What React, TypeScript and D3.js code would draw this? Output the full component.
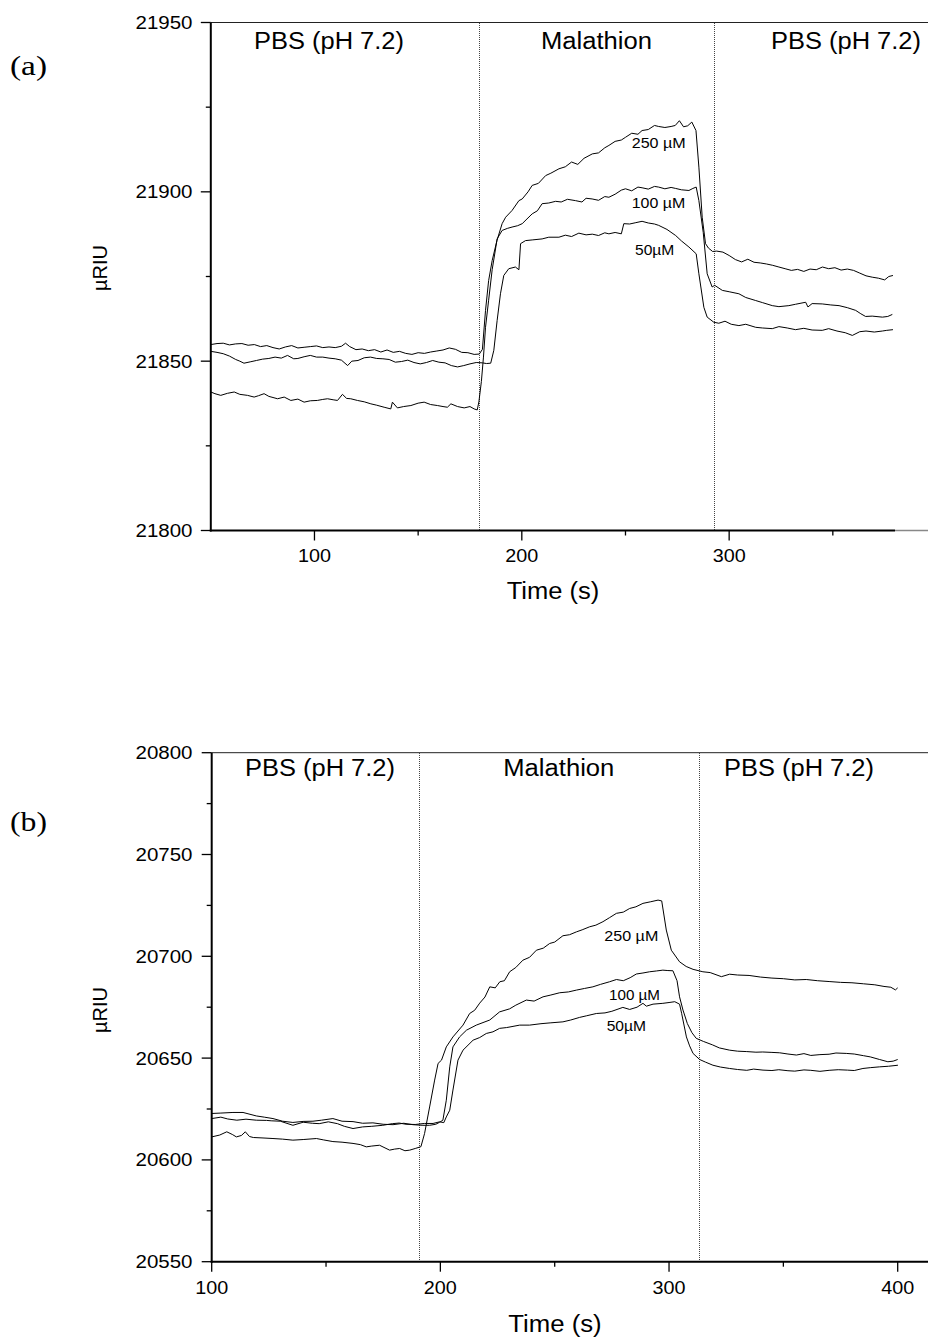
import React from "react";
import * as d3 from "d3";

type Pt = [number, number];

// ---------- Panel (a) data: time (s), µRIU ----------
const a250: Pt[] = [[50,21854.9],[53,21855.2],[56,21855.3],[59,21854.8],[62,21855.1],[65,21855.2],[68,21854.7],[71,21854.9],[74,21854.3],[77,21854.6],[80,21854.0],[83,21853.6],[86,21854.2],[89,21854.6],[92,21853.9],[95,21854.1],[98,21854.3],[101,21854.5],[104,21854.0],[107,21854.2],[110,21854.0],[113,21854.4],[115,21855.3],[117,21854.3],[120,21853.4],[123,21853.6],[126,21853.1],[129,21853.4],[132,21852.7],[135,21853.3],[138,21852.6],[141,21852.9],[144,21852.3],[147,21852.0],[150,21852.5],[153,21852.3],[156,21852.7],[159,21853.0],[162,21853.3],[165,21853.9],[168,21853.5],[171,21852.6],[174,21852.5],[177,21852.0],[179.5,21852.1],[181,21853.5],[182.5,21865],[184,21873.8],[185.7,21879.7],[188,21885.6],[190.5,21890.6],[192.2,21892.5],[195.3,21894.5],[198.6,21897.4],[200.2,21897.9],[203,21900.0],[205,21901.9],[208,21902.5],[211.5,21904.8],[214,21905.5],[217.9,21906.8],[221,21907.4],[224,21908.8],[227,21908.1],[230,21909.9],[234,21911.2],[237,21911.5],[240,21913.0],[242,21913.7],[245,21914.9],[248,21915.3],[250,21916.1],[253,21917.3],[256,21917.0],[258,21918.1],[261,21918.4],[264,21919.6],[266,21919.3],[269,21919.0],[272,21919.3],[274,21919.6],[276,21921.0],[278,21919.2],[280,21919.5],[282,21920.6],[284,21918.1],[285.4,21907.3],[287,21892.5],[288.6,21884.7],[290,21883.4],[292,21882.4],[294,21882.5],[297,21882.2],[300,21881.2],[303,21880.0],[306,21879.3],[309,21880.1],[312,21879.2],[315,21879.0],[318,21878.7],[321,21878.3],[324,21877.8],[327,21877.3],[330,21876.8],[333,21877.1],[336,21876.5],[339,21877.2],[342,21877.0],[345,21877.8],[348,21877.3],[351,21877.6],[354,21876.9],[357,21877.2],[360,21876.8],[363,21876.0],[366,21875.2],[369,21874.8],[372,21874.5],[375,21874.0],[377,21875.0],[379,21875.3]];

const a100: Pt[] = [[50,21840.9],[52,21840.4],[54.8,21839.9],[58,21840.5],[61.3,21840.9],[64,21840.2],[67.7,21839.9],[70.9,21839.4],[73,21839.8],[75.7,21840.4],[78,21839.6],[82.2,21838.9],[85.4,21839.4],[88.6,21838.4],[92,21838.8],[95,21837.9],[98,21838.3],[101.4,21838.4],[104,21838.7],[106.3,21838.9],[109,21838.6],[111.1,21838.4],[113.5,21840.2],[115.5,21839.0],[117.5,21838.9],[120.7,21838.4],[124,21838.0],[127.2,21837.4],[130,21837.0],[133.6,21836.4],[136.8,21835.9],[137.6,21837.9],[140,21836.2],[143,21836.6],[146.5,21836.9],[150,21837.6],[152.9,21837.9],[156,21837.2],[159.3,21836.9],[162,21836.6],[164.1,21836.4],[165.8,21837.4],[169,21836.6],[172.2,21836.2],[175,21836.6],[177,21835.9],[178.5,21835.6],[179.3,21838.0],[180.5,21844.0],[181.5,21851.2],[182.5,21860.0],[184,21868.0],[185.7,21877.0],[188.1,21886.1],[190.5,21888.6],[193,21889.2],[195.3,21889.6],[198,21890.0],[200.2,21890.6],[202.5,21892.0],[205,21893.5],[207.5,21894.4],[209.8,21896.5],[213,21896.7],[216.3,21897.2],[219,21897.0],[222,21897.8],[225.9,21897.4],[229,21897.0],[231,21898.1],[233.9,21897.9],[237,21897.5],[240,21898.6],[242,21898.4],[245,21899.3],[248,21900.5],[250,21900.9],[253,21900.3],[256,21901.4],[258,21901.2],[261,21900.8],[264,21901.6],[266,21901.4],[269,21900.9],[272,21901.3],[274.2,21901.0],[277,21900.6],[280.6,21900.4],[282.5,21901.0],[284.1,21901.4],[285.4,21897.4],[287.5,21888.0],[289.4,21875.8],[291.8,21871.9],[293,21872.4],[296.7,21870.9],[300,21870.5],[304.7,21869.9],[308,21868.8],[312.8,21867.9],[316,21867.3],[320.8,21866.4],[324,21866.1],[328.8,21866.4],[332,21866.8],[336.9,21867.4],[338,21866.0],[340,21867.0],[344.9,21866.9],[349,21866.6],[353,21866.4],[357,21865.8],[361,21865.0],[363.5,21864.0],[365.8,21863.2],[369,21863.3],[373.9,21863.0],[376.5,21863.2],[378.7,21863.8]];

const a50: Pt[] = [[50,21852.9],[53,21852.6],[56,21852.2],[59,21851.5],[62,21850.5],[64,21850.0],[66,21849.4],[69,21849.8],[72,21850.2],[75,21850.6],[78,21850.8],[81,21851.2],[84,21850.9],[87,21851.7],[90,21850.7],[92,21850.8],[95,21851.3],[98,21851.7],[101,21851.2],[104,21851.2],[107,21850.9],[110,21850.7],[113,21850.3],[116,21848.7],[118,21850.0],[121,21850.2],[124,21851.0],[127,21851.2],[130,21850.8],[133,21850.7],[136,21850.5],[139,21849.7],[142,21849.9],[145,21850.3],[148,21849.6],[151,21849.2],[154,21849.6],[157,21850.2],[160,21849.7],[163,21849.5],[166,21848.7],[169,21848.3],[172,21848.7],[175,21849.2],[178,21849.6],[181,21849.5],[183,21849.3],[185,21849.4],[186.5,21853.2],[188.1,21862.0],[189.7,21869.9],[191.3,21875.3],[193.7,21877.3],[196.9,21877.8],[198.6,21877.0],[199.4,21884.7],[201.8,21885.6],[205,21885.8],[209.8,21886.1],[213,21886.6],[217.9,21886.6],[221,21887.2],[224,21886.8],[227.5,21887.8],[231,21887.3],[234,21887.5],[237,21887.1],[240,21887.9],[242,21887.6],[245,21888.0],[248,21887.6],[249.2,21890.6],[252,21890.5],[255,21890.9],[258,21891.3],[261,21890.8],[264,21890.5],[266,21890.1],[270,21888.9],[274.2,21887.1],[277,21885.5],[280.6,21883.7],[284.1,21881.7],[285.4,21875.8],[287.8,21865.9],[289.4,21863.0],[292.6,21861.5],[295,21861.2],[298,21861.8],[301,21860.9],[304.7,21860.5],[308,21860.9],[312.8,21860.0],[316,21859.8],[320.8,21859.6],[324,21860.2],[328,21859.8],[332,21859.3],[336,21859.7],[340,21859.2],[344.9,21859.1],[348,21859.6],[352,21858.9],[356,21858.4],[359.4,21857.6],[363,21858.7],[366,21858.9],[370,21858.6],[373.9,21858.9],[376,21859.1],[379,21859.3]];

// ---------- Panel (b) data: time (s), µRIU ----------
const b250: Pt[] = [[100,20611.3],[103.5,20612.2],[106.6,20613.8],[109,20612.5],[110.8,20611.3],[113,20612.0],[114.7,20613.8],[116.5,20611.5],[118.2,20611.0],[122,20610.8],[126.8,20610.5],[131,20610.2],[135.5,20609.7],[140,20610.0],[145.8,20610.5],[149,20609.8],[153,20609.0],[157,20608.7],[161.8,20608.1],[165,20607.5],[167.6,20606.4],[170,20606.8],[173.4,20607.2],[177.8,20604.8],[180,20605.3],[182.2,20605.6],[184.5,20604.5],[186.6,20604.8],[189,20605.6],[191.5,20606.5],[193.1,20613.0],[195.3,20626.0],[197.5,20639.2],[199,20647.4],[200.5,20649.0],[202.6,20655.5],[205.5,20660.4],[209.9,20666.2],[212.8,20671.9],[215,20673.5],[217.2,20677.0],[219.5,20680.0],[221.6,20685.0],[224,20684.5],[226,20687.5],[228,20688.0],[230.3,20692.4],[233,20694.5],[236.1,20698.1],[239,20699.5],[242,20703.0],[245,20704.0],[247.8,20706.3],[250,20707.0],[253.6,20710.1],[256.5,20710.6],[259.5,20712.0],[262,20713.0],[265.3,20714.5],[268,20715.3],[271.1,20717.0],[274,20719.0],[277,20721.1],[280,20721.7],[282.8,20723.5],[285.5,20724.3],[288.6,20726.0],[292,20726.8],[295.2,20727.6],[296.8,20727.2],[298.8,20712.9],[301,20703.0],[304.6,20697.3],[307.5,20695.0],[310.5,20693.6],[314.8,20692.4],[318,20692.0],[322.9,20690.0],[326.5,20691.2],[330,20690.8],[335,20690.6],[340,20689.8],[345,20689.3],[350,20689.0],[355,20688.4],[360,20688.6],[365,20688.0],[370,20687.6],[375,20687.2],[380,20687.0],[385,20686.5],[390,20686.0],[394,20685.2],[397,20684.8],[399,20683.5],[400,20684.5]];

const b100: Pt[] = [[100,20622.8],[104,20623.0],[109.3,20623.3],[113.7,20623.3],[119.5,20621.6],[123,20621.0],[126.8,20620.3],[131,20619.0],[135.5,20618.4],[140,20618.9],[144.3,20619.0],[148,20619.5],[153,20620.3],[157,20619.0],[161.8,20618.8],[166,20618.0],[170.5,20618.2],[175,20617.5],[179.3,20617.3],[184,20618.0],[188,20617.3],[192,20617.0],[195.3,20617.0],[198,20617.5],[199.7,20618.5],[201.1,20619.5],[202.6,20629.3],[204.1,20645.7],[205.5,20655.5],[208.4,20660.4],[211.4,20663.7],[215.7,20666.2],[221.6,20668.7],[225.9,20672.7],[230.3,20674.2],[233,20676.0],[237.6,20678.5],[241,20678.0],[244.9,20680.1],[248,20680.9],[252.2,20682.1],[256,20682.5],[259.5,20683.4],[263,20684.2],[266.7,20685.0],[270,20686.2],[274,20687.5],[277,20688.6],[280,20688.0],[283,20689.5],[285.7,20691.3],[288.6,20691.8],[291.5,20692.4],[294.5,20692.8],[297.3,20693.2],[299.5,20693.0],[301.7,20692.9],[303.5,20688.0],[304.6,20680.1],[306.1,20673.6],[308,20667.0],[310,20662.5],[311.9,20659.7],[315,20658.2],[319,20656.5],[322,20655.0],[326.5,20653.9],[330,20653.4],[334,20653.2],[338,20652.9],[341,20653.0],[345,20652.8],[348.4,20652.6],[352,20652.0],[355.7,20651.5],[359,20652.2],[362,20651.3],[366,20651.7],[370,20651.9],[373,20652.5],[377.5,20652.3],[381,20652.0],[385,20651.2],[388,20650.6],[392.1,20649.3],[395.7,20648.2],[398,20648.5],[400,20649.3]];

const b50: Pt[] = [[100,20620.3],[104,20621.0],[107,20620.1],[111,20619.5],[115,20620.0],[119.5,20619.5],[124,20619.4],[126,20619.2],[130,20619.0],[135.5,20617.0],[140,20618.5],[144,20618.0],[147,20617.8],[151,20618.7],[155,20617.8],[158,20616.5],[161.8,20615.4],[166,20616.2],[170,20616.5],[174.8,20617.0],[179,20617.8],[182,20618.1],[185,20617.5],[189,20617.4],[193,20617.9],[196.8,20617.9],[199.7,20618.7],[201.5,20618.3],[202.6,20621.1],[204.1,20624.4],[205.5,20634.3],[207.7,20649.0],[209.9,20653.9],[214.3,20658.8],[217.2,20660.1],[220.1,20662.1],[223,20662.9],[225.9,20664.6],[229,20665.0],[234.7,20666.2],[239,20666.2],[244,20666.9],[248,20667.3],[253.6,20667.8],[257,20668.7],[260.9,20670.0],[264,20670.8],[268.2,20671.9],[272,20672.2],[275,20673.0],[279.8,20674.9],[282.8,20673.9],[286,20675.0],[288.6,20676.9],[290.1,20675.5],[293,20676.5],[297.3,20676.9],[300,20677.3],[302.5,20677.7],[304.6,20676.5],[305.5,20672.0],[307.6,20660.4],[309,20656.0],[310.5,20652.3],[313.4,20649.3],[316,20648.0],[319.2,20646.5],[322.5,20645.6],[326.5,20644.9],[330,20644.4],[334,20644.0],[337,20644.6],[341.1,20644.1],[345,20643.9],[348,20644.3],[352,20643.8],[355,20643.6],[359,20644.2],[362,20644.0],[366,20643.5],[370,20644.0],[374,20644.3],[378,20644.1],[381,20643.9],[384.8,20644.9],[388,20645.3],[392.1,20645.7],[396,20646.0],[400.1,20646.5]];

// ---------- Axis ticks / annotations ----------
const aYTicks = [21800, 21850, 21900, 21950];
const aYMinor = [21825, 21875, 21925];
const aXTicks = [100, 200, 300];
const aXMinor = [150, 250, 350];
const aDividers = [179.3, 292.8];

const bYTicks = [20550, 20600, 20650, 20700, 20750, 20800];
const bYMinor = [20575, 20625, 20675, 20725, 20775];
const bXTicks = [100, 200, 300, 400];
const bXMinor = [150, 250, 350];
const bDividers = [190.8, 313.1];

const regionLabels = ["PBS (pH 7.2)", "Malathion", "PBS (pH 7.2)"];
const concLabels = ["250 µM", "100 µM", "50µM"];

const SANS = "'Liberation Sans', Arial, Helvetica, sans-serif";
const SERIF = "'Liberation Serif', 'Times New Roman', serif";

type PanelProps = {
  x: d3.ScaleLinear<number, number>;
  y: d3.ScaleLinear<number, number>;
  yTicks: number[];
  yMinor: number[];
  xTicks: number[];
  xMinor: number[];
  dividers: number[];
  series: Pt[][];
  axisEnd: number;
  greyTail: boolean;
  tag: string;
  tagY: number;
  regionX: number[];
  regionW: number[];
  regionY: number;
  concPos: [number, number, number][];
  titleX: number;
  titleW: number;
  titleY: number;
  yLabelY: number;
};

function Panel(p: PanelProps) {
  const [y0, y1] = p.y.range();
  const bottom = y0;
  const top = y1;
  const left = p.x.range()[0];
  const line = d3
    .line<Pt>()
    .x((d) => p.x(d[0]))
    .y((d) => p.y(d[1]));
  return (
    <g>
      {/* top frame line */}
      <line x1={left} x2={928} y1={top} y2={top} stroke="#222" strokeWidth={1} />
      {/* dividers */}
      {p.dividers.map((t, i) => {
        const dx = Math.round(p.x(t)) + 0.5;
        return (
          <line
            key={"dv" + i}
            x1={dx}
            x2={dx}
            y1={Math.round(top)}
            y2={bottom}
            stroke="#444"
            strokeWidth={1}
            strokeDasharray="1,1"
            shapeRendering="crispEdges"
          />
        );
      })}
      {/* data */}
      {p.series.map((s, i) => (
        <path key={"s" + i} d={line(s) || ""} fill="none" stroke="#000" strokeWidth={1} />
      ))}
      {/* axes */}
      <line x1={left} x2={left} y1={top} y2={bottom + 1} stroke="#000" strokeWidth={2} />
      <line x1={left - 1} x2={p.axisEnd} y1={bottom} y2={bottom} stroke="#000" strokeWidth={2} />
      {p.greyTail && (
        <line x1={p.axisEnd} x2={928} y1={bottom} y2={bottom} stroke="#888" strokeWidth={1.5} />
      )}
      {p.yTicks.map((v) => (
        <g key={"yt" + v}>
          <line x1={left - 10} x2={left} y1={p.y(v)} y2={p.y(v)} stroke="#000" strokeWidth={1.3} />
          <text
            x={192.5}
            y={p.y(v) + 6.5}
            textAnchor="end"
            fontFamily={SANS}
            fontSize={18}
            textLength={57}
            lengthAdjust="spacingAndGlyphs"
            fill="#000"
          >
            {v}
          </text>
        </g>
      ))}
      {p.yMinor.map((v) => (
        <line key={"ym" + v} x1={left - 5} x2={left} y1={p.y(v)} y2={p.y(v)} stroke="#000" strokeWidth={1.3} />
      ))}
      {p.xTicks.map((v) => (
        <g key={"xt" + v}>
          <line x1={p.x(v)} x2={p.x(v)} y1={bottom} y2={bottom + 10} stroke="#000" strokeWidth={1.3} />
          <text
            x={p.x(v)}
            y={bottom + 31.8}
            textAnchor="middle"
            fontFamily={SANS}
            fontSize={18}
            textLength={33}
            lengthAdjust="spacingAndGlyphs"
            fill="#000"
          >
            {v}
          </text>
        </g>
      ))}
      {p.xMinor.map((v) => (
        <line key={"xm" + v} x1={p.x(v)} x2={p.x(v)} y1={bottom} y2={bottom + 5} stroke="#000" strokeWidth={1.3} />
      ))}
      {/* region labels */}
      {regionLabels.map((t, i) => (
        <text
          key={"rl" + i}
          x={p.regionX[i]}
          y={p.regionY}
          textAnchor="middle"
          fontFamily={SANS}
          fontSize={23}
          textLength={p.regionW[i]}
          lengthAdjust="spacingAndGlyphs"
          fill="#000"
        >
          {t}
        </text>
      ))}
      {/* concentration labels */}
      {concLabels.map((t, i) => (
        <text
          key={"cl" + i}
          x={p.concPos[i][0]}
          y={p.concPos[i][1]}
          fontFamily={SANS}
          fontSize={14.5}
          textLength={p.concPos[i][2]}
          lengthAdjust="spacingAndGlyphs"
          fill="#000"
        >
          {t}
        </text>
      ))}
      {/* axis titles */}
      <text
        x={p.titleX}
        y={p.titleY}
        textAnchor="middle"
        fontFamily={SANS}
        fontSize={23}
        textLength={p.titleW}
        lengthAdjust="spacingAndGlyphs"
        fill="#000"
      >
        Time (s)
      </text>
      <text
        transform={`translate(107,${p.yLabelY}) rotate(-90)`}
        textAnchor="middle"
        fontFamily={SANS}
        fontSize={20}
        fill="#000"
      >
        µRIU
      </text>
      <text
        x={10}
        y={p.tagY}
        fontFamily={SERIF}
        fontSize={28}
        textLength={37}
        lengthAdjust="spacingAndGlyphs"
        fill="#000"
      >
        {p.tag}
      </text>
    </g>
  );
}

export default function App() {
  const xA = d3.scaleLinear().domain([50, 400]).range([210.8, 936.5]);
  const yA = d3.scaleLinear().domain([21800, 21950]).range([530.5, 22.5]);
  const xB = d3.scaleLinear().domain([100, 400]).range([211.7, 897.7]);
  const yB = d3.scaleLinear().domain([20550, 20800]).range([1261.7, 752.7]);

  return (
    <svg width={928} height={1338} style={{ display: "block", position: "absolute", left: 0, top: 0, background: "#fff" }}>
      <rect x={0} y={0} width={928} height={1338} fill="#fff" />
      <Panel
        x={xA}
        y={yA}
        yTicks={aYTicks}
        yMinor={aYMinor}
        xTicks={aXTicks}
        xMinor={aXMinor}
        dividers={aDividers}
        series={[a250, a100, a50]}
        axisEnd={895}
        greyTail={true}
        tag="(a)"
        tagY={75}
        regionX={[329, 596.5, 846]}
        regionW={[150, 111, 150]}
        regionY={48.5}
        concPos={[[631.7, 147.7, 54], [631.7, 208.3, 53.5], [635, 255, 39.3]]}
        titleX={553}
        titleW={92.6}
        titleY={599.3}
        yLabelY={268}
      />
      <Panel
        x={xB}
        y={yB}
        yTicks={bYTicks}
        yMinor={bYMinor}
        xTicks={bXTicks}
        xMinor={bXMinor}
        dividers={bDividers}
        series={[b250, b100, b50]}
        axisEnd={928}
        greyTail={false}
        tag="(b)"
        tagY={831}
        regionX={[320, 558.8, 799]}
        regionW={[150, 111, 150]}
        regionY={775.7}
        concPos={[[604.3, 940.7, 54], [609, 1000, 51], [606.7, 1031, 39.3]]}
        titleX={555}
        titleW={93.4}
        titleY={1331.7}
        yLabelY={1010}
      />
    </svg>
  );
}
